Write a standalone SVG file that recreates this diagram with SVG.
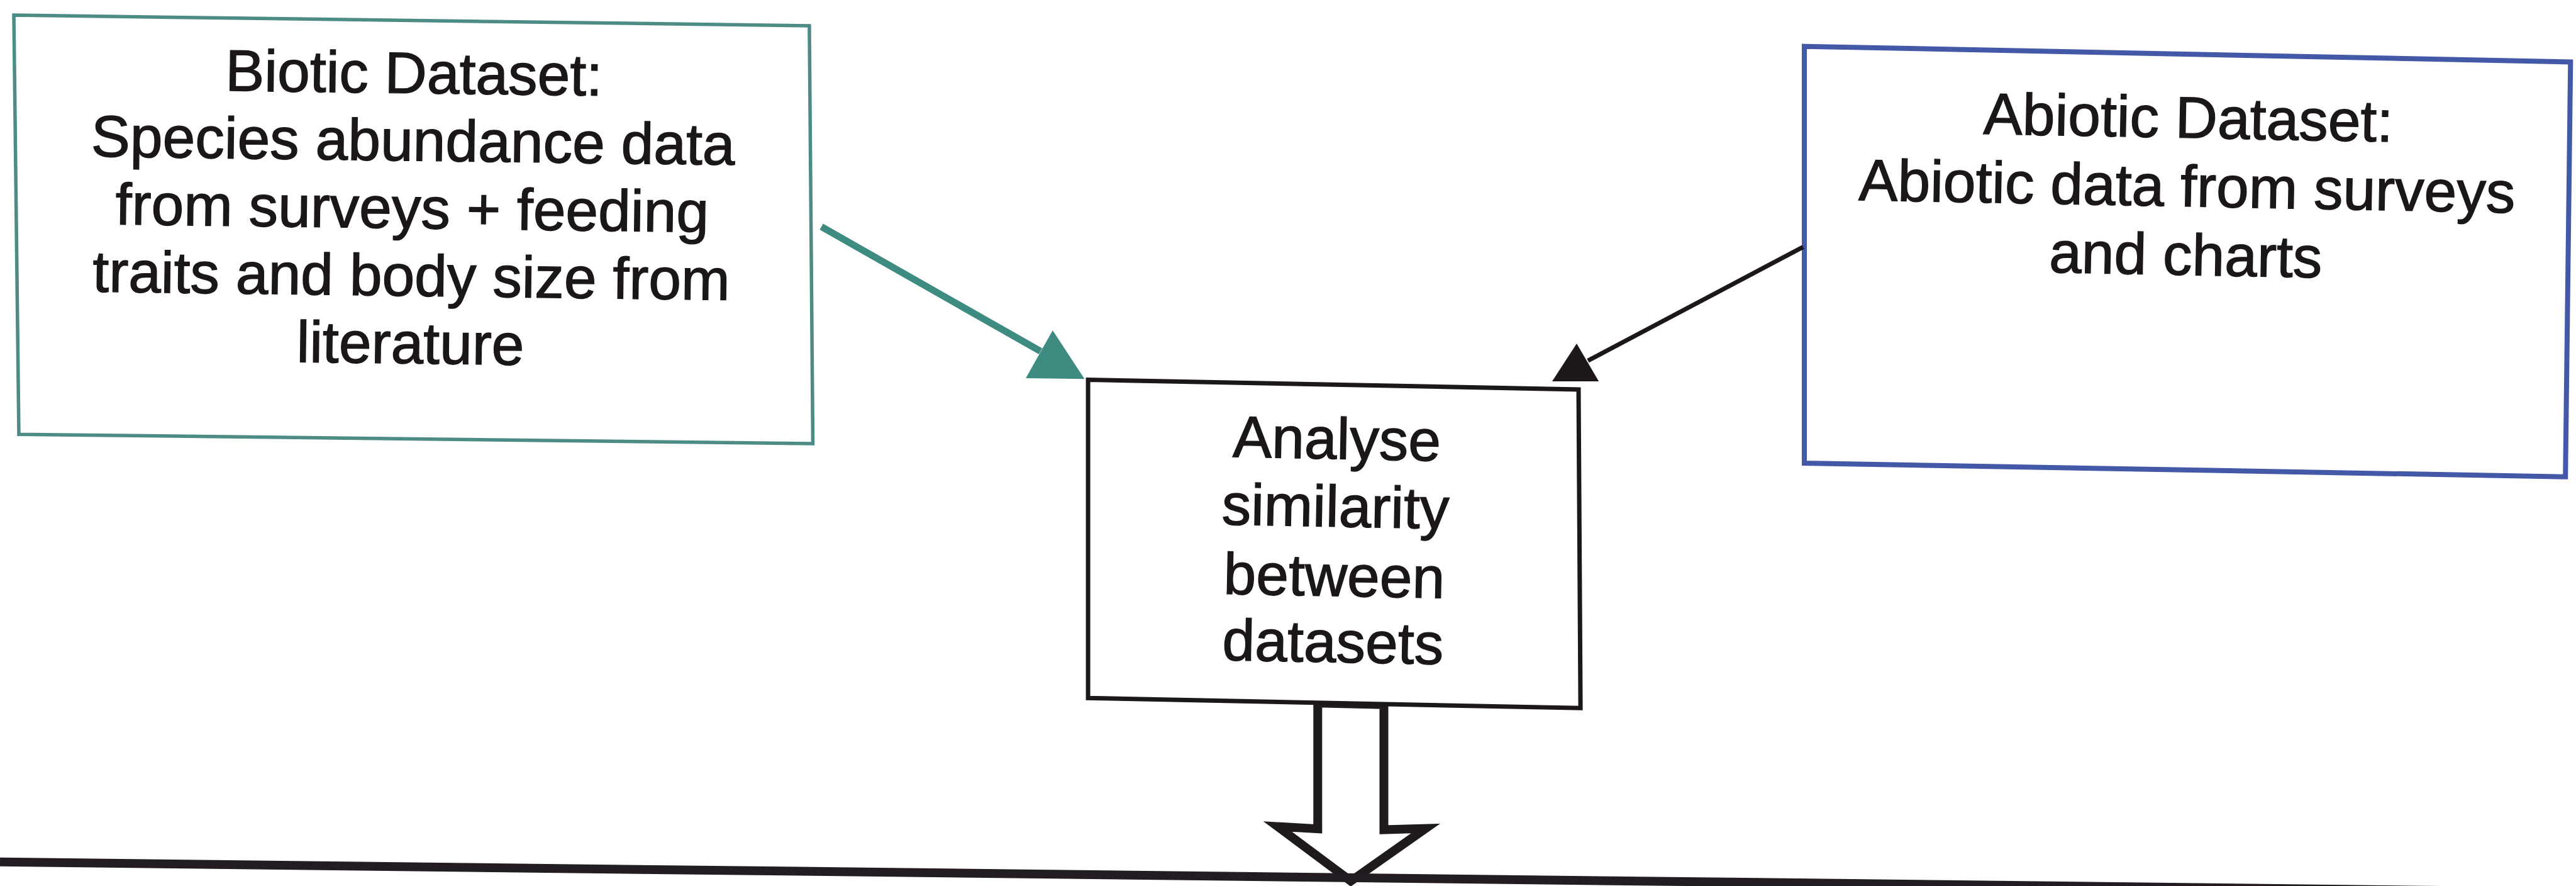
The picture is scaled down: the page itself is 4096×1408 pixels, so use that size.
<svg xmlns="http://www.w3.org/2000/svg" width="4096" height="1408" viewBox="0 0 4096 1408">
  <style>
    .label { font-family: "Liberation Sans", Arial, sans-serif; font-size: 93px; fill: #1b1719; stroke: #1b1719; stroke-width: 1.4; text-anchor: middle; }
    .box { fill: #ffffff; stroke-linejoin: miter; }
    .biotic { stroke: #4d8b87; stroke-width: 5.5; }
    .abiotic { stroke: #4458a8; stroke-width: 8; }
    .analyse { stroke: #1c1719; stroke-width: 7; }
    .link-green { stroke: #3e8b82; stroke-width: 11; fill: none; }
    .head-green { fill: #3e8b82; }
    .link-dark { stroke: #1d1719; stroke-width: 7; fill: none; }
    .head-dark { fill: #1d1719; }
    .block-arrow { fill: #ffffff; stroke: #1f1a1d; stroke-width: 14; stroke-linejoin: miter; }
    .baseline { stroke: #231c22; stroke-width: 14; }
  </style>
  <rect width="4096" height="1408" fill="#ffffff"/>

  <!-- Biotic dataset -->
  <g id="biotic-dataset">
    <polygon class="box biotic" points="22,24.1 1286.9,40.9 1292.5,705 30,690.2"/>
    <g transform="rotate(0.75 654 363)">
      <text class="label" x="655" y="148">Biotic Dataset:</text>
      <text class="label" x="655" y="255.3">Species abundance data</text>
      <text class="label" x="655" y="362.7">from surveys + feeding</text>
      <text class="label" x="655" y="470.1">traits and body size from</text>
      <text class="label" x="655" y="577.5">literature</text>
    </g>
  </g>

  <!-- Abiotic dataset -->
  <g id="abiotic-dataset">
    <polygon class="box abiotic" points="2869,73.7 4087.3,98.4 4079.2,757.7 2869,736"/>
    <g transform="rotate(1.1 3477 320)">
      <text class="label" x="3477" y="219">Abiotic Dataset:</text>
      <text class="label" x="3477" y="328">Abiotic data from surveys</text>
      <text class="label" x="3477" y="437">and charts</text>
    </g>
  </g>

  <!-- Outlined block arrow below the analysis box -->
  <g id="output-arrow">
    <path class="block-arrow" d="M2095.3,1117.3 L2095.3,1317.2 L2031.6,1313.5 L2147.9,1400.2 L2266.8,1316.6 L2200.5,1318.5 L2200.5,1119.8 Z"/>
  </g>

  <!-- Analysis step -->
  <g id="analyse-similarity">
    <polygon class="box analyse" points="1730.1,603.5 2510,619 2513.1,1125.3 1730.1,1109.2"/>
    <g transform="rotate(1.1 2122 890)">
      <text class="label" x="2122" y="729.2">Analyse</text>
      <text class="label" x="2122" y="836.9">similarity</text>
      <text class="label" x="2122" y="947.1">between</text>
      <text class="label" x="2122" y="1052.3">datasets</text>
    </g>
  </g>

  <!-- Connectors -->
  <g id="connectors">
    <line class="link-green" x1="1306.1" y1="360.3" x2="1654.6" y2="558.3"/>
    <polygon class="head-green" points="1673.8,524.9 1631.1,601 1724.5,602.3"/>
    <line class="link-dark" x1="2867.2" y1="392.4" x2="2524.9" y2="573.2"/>
    <polygon class="head-dark" points="2507,546 2468,606 2542.2,606"/>
  </g>

  <!-- Rule along the bottom edge -->
  <g id="bottom-rule">
    <line class="baseline" x1="0" y1="1369.8" x2="4096" y2="1417.5"/>
  </g>
</svg>
